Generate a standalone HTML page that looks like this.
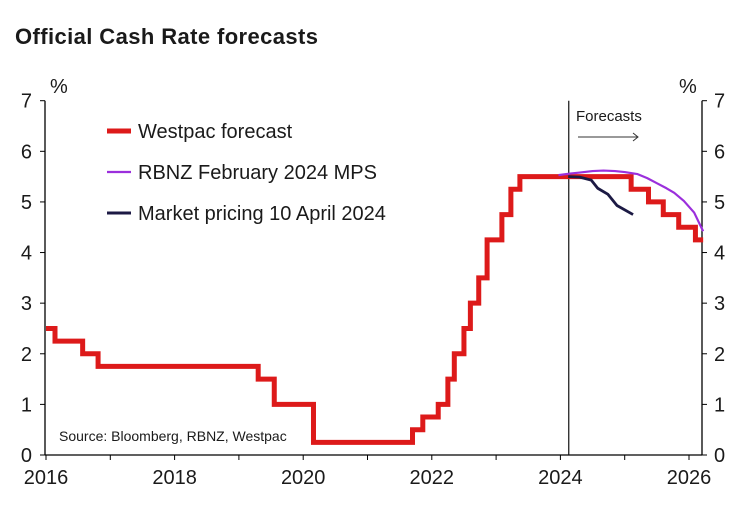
<!DOCTYPE html>
<html><head><meta charset="utf-8"><style>
html,body{margin:0;padding:0;background:#fff;}
svg text{font-family:"Liberation Sans",Arial,sans-serif;fill:#1a1a1a;}
</style></head><body>
<svg width="746" height="506" viewBox="0 0 746 506">
<text x="15" y="44" font-size="22" font-weight="bold" fill="#222" style="letter-spacing:0.4px">Official Cash Rate forecasts</text>
<g id="axes"></g>
<g id="series"></g>
</svg>
<script>
const wpX=[2016.0,2016.14,2016.57,2016.81,2019.3,2019.55,2020.16,2021.7,2021.86,2022.1,2022.25,2022.35,2022.5,2022.6,2022.73,2022.86,2023.09,2023.23,2023.37,2025.1,2025.37,2025.6,2025.84,2026.1,2026.22];
const wpY=[2.5,2.25,2.0,1.75,1.5,1.0,0.25,0.5,0.75,1.0,1.5,2.0,2.5,3.0,3.5,4.25,4.75,5.25,5.5,5.25,5.0,4.75,4.5,4.25,4.25];
const rbX=[2023.97,2024.15,2024.3,2024.5,2024.67,2024.85,2025.0,2025.2,2025.35,2025.5,2025.65,2025.77,2025.92,2026.08,2026.22];
const rbY=[5.53,5.56,5.58,5.61,5.62,5.61,5.59,5.55,5.47,5.37,5.27,5.18,5.02,4.79,4.42];
const mkX=[2024.12,2024.3,2024.48,2024.58,2024.74,2024.88,2025.13];
const mkY=[5.5,5.49,5.43,5.27,5.15,4.93,4.75];
const yTicks=[0,1,2,3,4,5,6,7];
const xTicks=[2016,2017,2018,2019,2020,2021,2022,2023,2024,2025,2026];
const xLabels=[2016,2018,2020,2022,2024,2026];
const forecastStart=2024.13;

const NS="http://www.w3.org/2000/svg";
const X0=45,X1=702,Y0=455,Y7=100.7;
const sx=v=>46+(v-2016)*64.3;
const sy=v=>Y0-(v/7)*(Y0-Y7);
function mk(tag,attrs,parent){const e=document.createElementNS(NS,tag);for(const k in attrs)e.setAttribute(k,attrs[k]);parent.appendChild(e);return e;}
const ax=document.getElementById('axes'),se=document.getElementById('series');
let l=mk('line',{x1:X0,y1:Y7,x2:X0,y2:Y0,stroke:'#000','stroke-width':1.3},ax);


l=mk('line',{x1:X1,y1:Y7,x2:X1,y2:Y0,stroke:'#000','stroke-width':1.3},ax);


l=mk('line',{x1:X0,y1:Y0,x2:X1,y2:Y0,stroke:'#000','stroke-width':1.3},ax);


yTicks.forEach(v=>{
  mk('line',{x1:X0-5,y1:sy(v),x2:X0,y2:sy(v),stroke:'#000'},ax);
  mk('line',{x1:X1,y1:sy(v),x2:X1+5,y2:sy(v),stroke:'#000'},ax);
  let t=mk('text',{x:X0-13,y:sy(v)+7,'font-size':20,'text-anchor':'end'},ax);t.textContent=v;
  
  
  t=mk('text',{x:X1+12,y:sy(v)+7,'font-size':20,'text-anchor':'start'},ax);t.textContent=v;
  
  
});
xTicks.forEach(v=>{mk('line',{x1:sx(v),y1:Y0,x2:sx(v),y2:Y0+5,stroke:'#000'},ax);});
xLabels.forEach(v=>{let t=mk('text',{x:sx(v),y:484,'font-size':20,'text-anchor':'middle'},ax);t.textContent=v;
  
  });
let t=mk('text',{x:50,y:93,'font-size':20},ax);t.textContent='%';


t=mk('text',{x:679,y:93,'font-size':20},ax);t.textContent='%';


l=mk('line',{x1:sx(forecastStart),y1:Y7,x2:sx(forecastStart),y2:Y0,stroke:'#111','stroke-width':1.2},ax);


t=mk('text',{x:576,y:121,'font-size':15},ax);t.textContent='Forecasts';


l=mk('path',{d:'M578 137 H638 M633 133 L638 137 L633 141',stroke:'#333',fill:'none','stroke-width':1},ax);


t=mk('text',{x:59,y:441,'font-size':14},ax);t.textContent='Source: Bloomberg, RBNZ, Westpac';


let d='M'+sx(wpX[0])+' '+sy(wpY[0]);
for(let i=1;i<wpX.length;i++){d+=' H'+sx(wpX[i])+' V'+sy(wpY[i]);}
let p=mk('path',{d:d,stroke:'#dd1a1a',fill:'none','stroke-width':5,'stroke-linejoin':'miter'},se);


function poly(xs,ys){return xs.map((v,i)=>(i?'L':'M')+sx(v)+' '+sy(ys[i])).join(' ');}
p=mk('path',{d:poly(rbX,rbY),stroke:'#9b2fdc',fill:'none','stroke-width':2.2,'stroke-linejoin':'round'},se);


p=mk('path',{d:poly(mkX,mkY),stroke:'#1c1a44',fill:'none','stroke-width':2.8,'stroke-linejoin':'round'},se);


const legN=['Westpac forecast','RBNZ February 2024 MPS','Market pricing 10 April 2024'];
const legC=['#dd1a1a','#9b2fdc','#1c1a44'];
const legW=[5,2.2,3];
const legNames=['legend-westpac','legend-rbnz','legend-market'];
legN.forEach((n,i)=>{
  const y=131+i*41;
  let g=mk('g',{},ax);
  
  
  mk('line',{x1:107,y1:y,x2:131,y2:y,stroke:legC[i],'stroke-width':legW[i]},g);
  let tt=mk('text',{x:138,y:y+7,'font-size':20},g);tt.textContent=n;
});
</script>
</body></html>
